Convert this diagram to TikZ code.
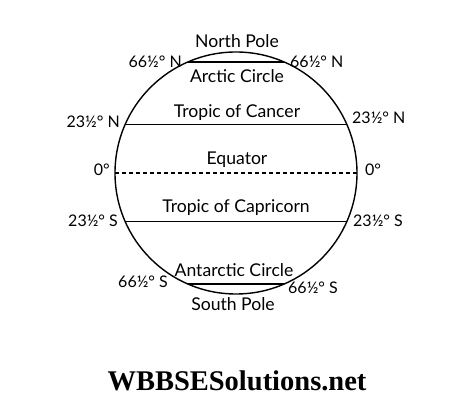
\documentclass[tikz,border=0pt]{standalone}
\usepackage{fontspec}
\setmainfont{Lato}
\newfontfamily\wmfont{Liberation Serif}
\usetikzlibrary{positioning,calc}

\begin{document}
\begin{tikzpicture}[x=1pt, y=1pt,
    lbl/.style={inner sep=0pt, font=\fontsize{17.6}{20}\selectfont},
    deg/.style={inner sep=0pt, font=\fontsize{16}{19}\selectfont},
    latline/.style={line width=1.4pt}]
    \useasboundingbox (0,0) rectangle (474,419);

    % Globe
    \coordinate (c) at (236,246);
    \draw[line width=1.4pt] (c) circle (121);

    % Points on the globe
    \coordinate (anl) at ($(c)+(113.5:121)$);
    \coordinate (anr) at ($(c)+(66.5:121)$);
    \coordinate (tnl) at ($(c)+(156.5:121)$);
    \coordinate (tnr) at ($(c)+(23.5:121)$);
    \coordinate (eql) at ($(c)+(180:121)$);
    \coordinate (eqr) at ($(c)+(0:121)$);
    \coordinate (tsl) at ($(c)+(203.5:121)$);
    \coordinate (tsr) at ($(c)+(-23.5:121)$);
    \coordinate (asl) at ($(c)+(246.5:121)$);
    \coordinate (asr) at ($(c)+(-66.5:121)$);

    % Latitude lines
    \draw[latline] (anl) -- (anr);
    \draw[latline] (tnl) -- (tnr);
    \draw[line width=1.1pt, dash pattern=on 4pt off 3pt] (eql) -- (eqr);
    \draw[latline] (tsl) -- (tsr);
    \draw[latline] (asl) -- (asr);

    % Names of the lines
    \node[lbl] (np) at (237,378) {North Pole};
    \node[lbl] (arc) at (237,343) {Arctic Circle};
    \node[lbl] (cancer) at (237,306) {Tropic of Cancer};
    \node[lbl] (equ) at (237,259) {Equator};
    \node[lbl] (capri) at (236,211) {Tropic of Capricorn};
    \node[lbl] (antarc) at (234,149) {Antarctic Circle};
    \node[lbl] (sp) at (233,115) {South Pole};

    % Degrees
    \node[deg, anchor=east] (dnl) at (182,357) {66½° N};
    \node[deg, anchor=west] (dnr) at (290,357) {66½° N};
    \node[deg, anchor=east] (dtnl) at (120,297) {23½° N};
    \node[deg, anchor=west] (dtnr) at (352,301) {23½° N};
    \node[deg, anchor=east] (d0l) at (110,249) {0°};
    \node[deg, anchor=west] (d0r) at (365,249) {0°};
    \node[deg, anchor=east] (dtsl) at (118,198) {23½° S};
    \node[deg, anchor=west] (dtsr) at (353,198) {23½° S};
    \node[deg, anchor=east] (dsl) at (168,137) {66½° S};
    \node[deg, anchor=west] (dsr) at (288,131) {66½° S};

    % Site name
    \node[inner sep=0pt, font=\wmfont\bfseries\fontsize{28.5}{32}\selectfont] (site) at (237,38) {WBBSESolutions.net};
\end{tikzpicture}
\end{document}
